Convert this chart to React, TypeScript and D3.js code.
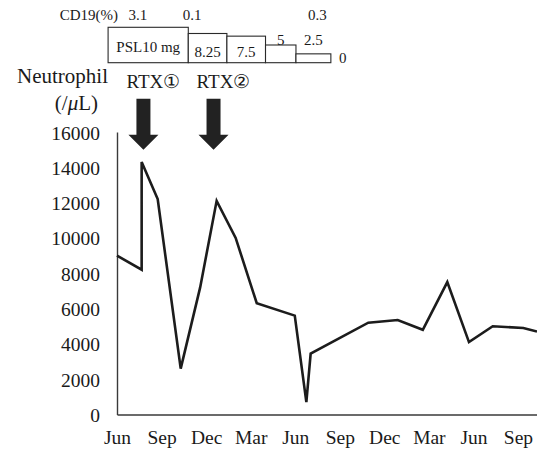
import { useEffect, useRef } from 'react';
import * as d3 from 'd3';

// months counted from the first June on the axis
const months = [0, 1.66, 1.66, 2.74, 4.29, 5.6, 6.71, 7.99, 9.41, 11.97, 12.75, 13.04, 16.92, 18.9, 20.59, 22.24, 23.7, 25.3, 27.36, 28.28];
const neutrophil = [9000, 8200, 14300, 12200, 2600, 7200, 12100, 10000, 6300, 5600, 700, 3450, 5200, 5350, 4800, 7500, 4100, 5000, 4900, 4700];

const tickMonths = [0, 3, 6, 9, 12, 15, 18, 21, 24, 27];
const tickLabels = ['Jun', 'Sep', 'Dec', 'Mar', 'Jun', 'Sep', 'Dec', 'Mar', 'Jun', 'Sep'];
const yTicks = [0, 2000, 4000, 6000, 8000, 10000, 12000, 14000, 16000];

// prednisolone dose periods
const pslDose = [10, 8.25, 7.5, 5, 2.5];
const pslStart = [-0.6, 4.8, 7.4, 10, 12.05];
const pslEnd = [4.8, 7.4, 10, 12.05, 14.4];
const pslLabels = ['PSL10 mg', '8.25', '7.5', '5', '2.5'];
const pslZeroMonth = 15.2;

const cd19Values = ['3.1', '0.1', '0.3'];
const cd19Months = [1.41, 5.05, 13.5];

const rtxLabels = ['RTX\u2460', 'RTX\u2461'];
const rtxMonths = [1.78, 6.5];
const rtxTipValue = 15000;

const FONT = '"Liberation Serif", "Times New Roman", serif';

export default function App() {
  const svgRef = useRef<SVGSVGElement>(null);

  useEffect(() => {
    if (!svgRef.current) return;
    const W = 537;
    const H = 453;
    const margin = { top: 132, right: 0, bottom: 38.5, left: 117 };
    const width = W - margin.left - margin.right;
    const height = H - margin.top - margin.bottom;

    const root = d3.select(svgRef.current);
    root.selectAll('*').remove();
    root.attr('width', W).attr('height', H).attr('font-family', FONT);

    const x = d3.scaleLinear().domain([0, 28.28]).range([0, width]);
    const y = d3.scaleLinear().domain([0, 16000]).range([height, 0]);

    const svg = root.append('g').attr('transform', `translate(${margin.left},${margin.top})`);

    // axes
    const yAxis = svg.append('g')
      .call(d3.axisLeft(y).tickValues(yTicks).tickSize(0).tickPadding(17).tickFormat(d => String(d)));
    yAxis.attr('font-family', FONT);
    yAxis.select('.domain').attr('stroke', '#3a3a3a').attr('stroke-width', 1.4);
    yAxis.selectAll('text').style('font-size', '19.5px').attr('fill', '#1a1a1a').attr('dy', '0.36em');

    const xAxis = svg.append('g')
      .attr('transform', `translate(0,${height})`)
      .call(d3.axisBottom(x).tickValues(tickMonths).tickSize(0).tickPadding(16).tickFormat((d, i) => tickLabels[i]));
    xAxis.attr('font-family', FONT);
    xAxis.select('.domain').attr('stroke', '#3a3a3a').attr('stroke-width', 1.4);
    xAxis.selectAll('text').style('font-size', '19.5px').attr('fill', '#1a1a1a');

    // neutrophil line
    const pts: [number, number][] = months.map((m, i) => [m, neutrophil[i]]);
    svg.append('path')
      .datum(pts)
      .attr('fill', 'none')
      .attr('stroke', '#1c1c1c')
      .attr('stroke-width', 2.6)
      .attr('stroke-linejoin', 'miter')
      .attr('d', d3.line<[number, number]>().x(d => x(d[0])).y(d => y(d[1])));

    // RTX arrows
    rtxMonths.forEach((m, i) => {
      const cx = x(m);
      const tip = y(rtxTipValue);
      const headH = 15, headW = 15, shaftW = 7, shaftH = 36;
      const path = d3.path();
      path.moveTo(cx - shaftW, tip - headH - shaftH);
      path.lineTo(cx + shaftW, tip - headH - shaftH);
      path.lineTo(cx + shaftW, tip - headH);
      path.lineTo(cx + headW, tip - headH);
      path.lineTo(cx, tip);
      path.lineTo(cx - headW, tip - headH);
      path.lineTo(cx - shaftW, tip - headH);
      path.closePath();
      svg.append('path').attr('d', path.toString()).attr('fill', '#222');
      svg.append('text')
        .attr('x', cx - 17)
        .attr('y', 88 - margin.top)
        .style('font-size', '19px')
        .attr('fill', '#1a1a1a')
        .text(rtxLabels[i]);
    });

    // y label
    root.append('text')
      .attr('x', 108).attr('y', 83)
      .attr('text-anchor', 'end')
      .style('font-size', '21px')
      .attr('fill', '#1a1a1a')
      .text('Neutrophil');
    const unit = root.append('text')
      .attr('x', 98).attr('y', 110)
      .attr('text-anchor', 'end')
      .style('font-size', '21px')
      .attr('fill', '#1a1a1a');
    unit.append('tspan').text('(/');
    unit.append('tspan').style('font-style', 'italic').text('\u03bc');
    unit.append('tspan').text('L)');

    // PSL boxes
    const boxBase = 62.7;
    const doseH = d3.scaleLinear().domain([0, 10]).range([0, 35.4]);
    const top = root.append('g').attr('transform', `translate(${margin.left},0)`);
    pslDose.forEach((d, i) => {
      const x0 = x(pslStart[i]);
      const x1 = x(pslEnd[i]);
      const h = doseH(d);
      top.append('rect')
        .attr('x', x0).attr('y', boxBase - h)
        .attr('width', x1 - x0).attr('height', h)
        .attr('fill', '#fff').attr('stroke', '#2a2a2a').attr('stroke-width', 1.1);
      const inside = h > 20;
      top.append('text')
        .attr('x', (x0 + x1) / 2)
        .attr('y', inside ? (i === 0 ? 51.7 : 57) : 45)
        .attr('text-anchor', 'middle')
        .style('font-size', '15px')
        .attr('fill', '#1a1a1a')
        .text(pslLabels[i]);
    });
    top.append('text')
      .attr('x', x(pslZeroMonth)).attr('y', 63)
      .attr('text-anchor', 'middle')
      .style('font-size', '15px')
      .attr('fill', '#1a1a1a')
      .text('0');

    // CD19
    top.append('text')
      .attr('x', 1).attr('y', 19.5)
      .attr('text-anchor', 'end')
      .style('font-size', '15px')
      .attr('fill', '#1a1a1a')
      .text('CD19(%)');
    cd19Values.forEach((v, i) => {
      top.append('text')
        .attr('x', x(cd19Months[i])).attr('y', 19.5)
        .attr('text-anchor', 'middle')
        .style('font-size', '15px')
        .attr('fill', '#1a1a1a')
        .text(v);
    });
  }, []);

  return (
    <div style={{ position: 'absolute', left: 0, top: 0, background: '#fff' }}>
      <svg ref={svgRef}></svg>
    </div>
  );
}
